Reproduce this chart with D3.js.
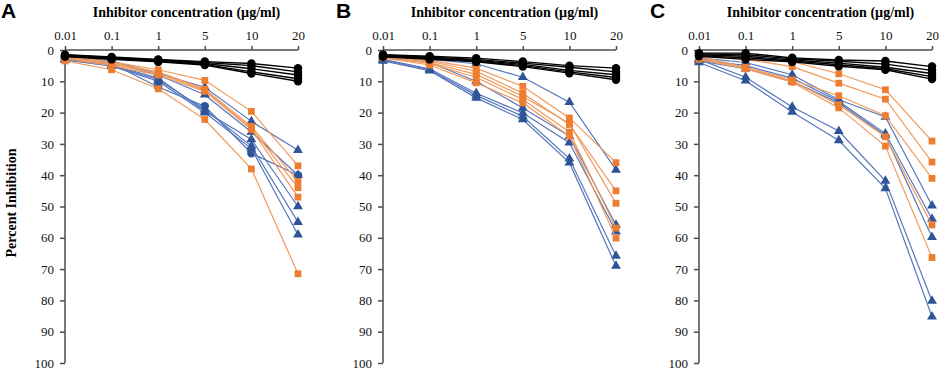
<!DOCTYPE html>
<html>
<head>
<meta charset="utf-8">
<script src="https://cdn.jsdelivr.net/npm/d3@7"></script>
<style>
  body { margin: 0; background: #fff; }
  svg { display: block; }
</style>
</head>
<body>
<svg id="chart" width="941" height="371"></svg>
<script>
// x categories and y ticks
var concentrations = ["0.01", "0.1", "1", "5", "10", "20"];
var yTickValues = [0, 10, 20, 30, 40, 50, 60, 70, 80, 90, 100];

// panel A
var blackA = [
  [1.5, 2.2, 3.0, 3.7, 4.3, 5.8],
  [1.6, 2.4, 3.2, 4.0, 5.0, 7.0],
  [1.8, 2.6, 3.4, 4.3, 6.0, 8.0],
  [2.0, 2.8, 3.6, 4.6, 7.0, 9.2],
  [2.1, 3.0, 3.8, 4.8, 7.5, 10.0]
];
var blueA = [
  [2.5, 4.3, 11.8, 18.0, 33.0, 40.0],
  [2.0, 3.5, 7.5, 11.9, 22.8, 32.0],
  [2.5, 4.0, 8.0, 14.3, 26.2, 40.0],
  [3.0, 4.8, 9.0, 19.6, 28.6, 50.0],
  [3.0, 5.0, 9.5, 19.0, 30.7, 55.0],
  [3.2, 5.2, 10.0, 20.0, 31.5, 59.0]
];
var blueShapeA = ["circle", "tri", "tri", "tri", "tri", "tri"];
var orangeA = [
  [2.0, 3.8, 6.3, 9.7, 19.6, 37.0],
  [2.3, 4.2, 7.0, 12.5, 24.4, 42.0],
  [2.5, 4.5, 7.5, 12.8, 25.0, 44.0],
  [2.8, 5.0, 8.0, 13.2, 25.4, 47.0],
  [3.5, 6.3, 12.4, 22.2, 38.0, 71.5]
];

// panel B
var blackB = [
  [1.5, 2.0, 2.6, 3.7, 5.0, 5.8],
  [1.6, 2.3, 3.0, 4.2, 5.5, 7.0],
  [1.8, 2.5, 3.3, 4.6, 6.5, 7.9],
  [2.0, 2.7, 3.5, 5.0, 7.0, 8.8],
  [2.2, 3.0, 3.8, 5.3, 7.4, 9.5]
];
var blueB = [
  [2.0, 3.0, 4.4, 8.7, 16.7, 38.3],
  [2.5, 4.0, 10.0, 18.5, 27.5, 55.9],
  [3.0, 6.0, 13.8, 20.1, 29.6, 58.0],
  [3.2, 6.3, 14.5, 21.2, 34.7, 65.8],
  [3.5, 6.6, 15.3, 22.2, 36.0, 69.0]
];
var blueShapeB = ["tri", "tri", "tri", "tri", "tri"];
var orangeB = [
  [1.5, 3.3, 5.8, 11.6, 21.7, 36.0],
  [1.8, 3.6, 6.8, 13.8, 23.8, 45.0],
  [2.0, 4.0, 7.8, 14.8, 23.5, 49.0],
  [2.2, 4.3, 8.8, 15.8, 26.2, 56.9],
  [2.5, 4.8, 10.5, 16.9, 27.5, 60.1]
];

// panel C
var blackC = [
  [1.0, 1.0, 2.5, 3.2, 3.5, 5.3],
  [1.2, 1.5, 2.8, 3.6, 4.5, 6.5],
  [1.5, 2.0, 3.2, 4.2, 5.5, 7.5],
  [1.8, 2.5, 3.5, 4.7, 6.0, 8.5],
  [2.0, 3.0, 3.8, 5.2, 6.3, 9.3]
];
var blueC = [
  [2.5, 4.0, 7.9, 15.9, 21.4, 49.7],
  [3.0, 5.0, 9.0, 16.4, 26.7, 54.0],
  [3.5, 6.0, 10.0, 16.9, 27.3, 59.8],
  [3.0, 8.7, 18.2, 25.9, 41.8, 80.2],
  [4.0, 9.8, 19.8, 28.9, 44.2, 85.2]
];
var blueShapeC = ["tri", "tri", "tri", "tri", "tri"];
var orangeC = [
  [1.5, 2.5, 3.7, 7.6, 12.7, 29.1],
  [1.8, 3.0, 5.3, 10.6, 15.7, 35.8],
  [2.0, 5.5, 9.5, 14.6, 21.0, 41.0],
  [2.5, 5.8, 10.0, 17.5, 27.7, 55.9],
  [3.0, 6.0, 10.3, 18.5, 30.7, 66.3]
];

var panels = [
  {letter: "A", left: 65,  letterX: 1,   black: blackA, blue: blueA, blueShape: blueShapeA, orange: orangeA},
  {letter: "B", left: 383, letterX: 336, black: blackB, blue: blueB, blueShape: blueShapeB, orange: orangeB},
  {letter: "C", left: 699, letterX: 650, black: blackC, blue: blueC, blueShape: blueShapeC, orange: orangeC}
];

var svg = d3.select("#chart");
var plotTop = 50, plotBottom = 363, plotW = 233;
var serif = "'Liberation Serif', 'Times New Roman', serif";

var y = d3.scaleLinear().domain([0, 100]).range([plotTop, plotBottom]);

var axisColor = "#4d4d4d";
var orangeLine = "#F19A5C", orangeMark = "#ED7D31";
var blueLine = "#5677BD", blueMark = "#2F5597";

panels.forEach(function(p){
	var x = d3.scalePoint().domain(concentrations).range([p.left, p.left + plotW]).padding(0);
	var g = svg.append("g");

	// panel letter
	g.append("text")
	 .attr("x", p.letterX).attr("y", 18)
	 .attr("font-family", "'Liberation Sans', Arial, sans-serif")
	 .attr("font-weight", "bold")
	 .attr("font-size", "21px")
	 .text(p.letter);

	// title
	g.append("text")
	 .attr("x", p.left + plotW / 2 + 5).attr("y", 17)
	 .attr("text-anchor", "middle")
	 .attr("font-family", serif)
	 .attr("font-weight", "bold")
	 .attr("font-size", "14px")
	 .text("Inhibitor concentration (\u00b5g/ml)");

	// x axis on top
	var xAxis = g.append("g")
	             .attr("transform", "translate(0," + plotTop + ")")
	             .call(d3.axisTop(x).tickSize(4).tickPadding(6));
	xAxis.select(".domain").attr("d", "M" + p.left + ",0H" + (p.left + plotW));

	// y axis
	var yAxis = g.append("g")
	             .attr("transform", "translate(" + p.left + ",0)")
	             .call(d3.axisLeft(y).tickValues(yTickValues).tickSize(5).tickPadding(6));
	yAxis.select(".domain").attr("d", "M0," + plotTop + "V" + plotBottom);

	[xAxis, yAxis].forEach(function(a){
		a.selectAll("path, line").attr("stroke", axisColor).attr("stroke-width", 1.5);
		a.selectAll("text")
		 .attr("font-family", serif)
		 .attr("font-size", "13px")
		 .attr("fill", "#111");
	});

	var line = d3.line()
	             .x(function(d, i){ return x(concentrations[i]); })
	             .y(function(d){ return y(d); });

	function drawSeries(vals, lineColor, markColor, shape, lw){
		g.append("path")
		 .attr("d", line(vals))
		 .attr("fill", "none")
		 .attr("stroke", lineColor)
		 .attr("stroke-width", lw);
		var sym = shape == "tri" ? d3.symbolTriangle : shape == "square" ? d3.symbolSquare : d3.symbolCircle;
		var size = shape == "tri" ? 42 : shape == "square" ? 46 : 56;
		g.selectAll(null)
		 .data(vals)
		 .enter().append("path")
		 .attr("d", d3.symbol().type(sym).size(size))
		 .attr("transform", function(d, i){ return "translate(" + x(concentrations[i]) + "," + y(d) + ")"; })
		 .attr("fill", markColor);
	}

	p.blue.forEach(function(s, i){ drawSeries(s, blueLine, blueMark, p.blueShape[i], 1.2); });
	p.orange.forEach(function(s){ drawSeries(s, orangeLine, orangeMark, "square", 1.2); });
	p.black.forEach(function(s){ drawSeries(s, "#000", "#000", "circle", 1.4); });
});

// y axis label
svg.append("text")
   .attr("transform", "translate(16,203) rotate(-90)")
   .attr("text-anchor", "middle")
   .attr("font-family", serif)
   .attr("font-weight", "bold")
   .attr("font-size", "14px")
   .text("Percent Inhibition");
</script>
</body>
</html>
